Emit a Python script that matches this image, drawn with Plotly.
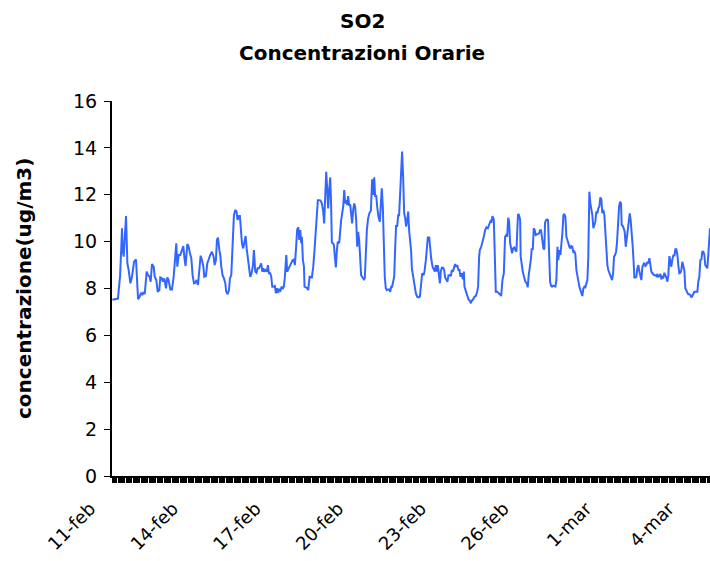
import datetime as dt
import plotly.graph_objects as go

# Hours elapsed since 11-feb 00:00 and SO2 hourly concentration (ug/m3)
hours = [
    0.0, 2.6, 4.9, 6.1, 6.7, 7.8, 8.4, 9.0, 9.9, 11.9, 13.1, 14.2, 15.7, 17.1, 18.9, 20.6, 21.5, 22.4,
    23.8, 25.0, 26.1, 27.3, 28.2, 29.0, 29.9, 31.1, 32.5, 33.4, 34.5, 36.0, 36.9, 38.3, 39.5, 40.9,
    41.8, 43.2, 44.1, 45.3, 46.7, 47.9, 49.0, 50.5, 51.9, 53.4, 54.9, 55.7, 56.6, 57.8, 59.2, 60.7,
    61.8, 63.0, 63.8, 65.3, 66.5, 67.6, 68.8, 69.9, 71.1, 72.3, 73.4, 74.6, 75.7, 76.9, 78.1, 79.2,
    80.1, 81.5, 82.7, 83.9, 85.3,
    86.8, 88.2, 89.1, 90.2, 91.1, 92.0, 93.2, 94.0, 94.9, 96.0, 97.2, 98.4, 99.2, 100.4, 101.6,
    102.4, 103.6, 104.8, 105.9, 107.1, 108.2, 109.1, 110.0, 111.1, 112.0, 112.9, 114.0, 114.9,
    116.1, 117.0, 118.1, 119.3, 120.1, 121.3, 122.5, 123.3, 124.5, 125.6, 126.5, 127.7, 128.8,
    129.7, 130.6, 131.5, 132.3, 133.5, 134.6, 135.5, 136.4, 137.5, 138.4, 139.3, 140.4, 141.6,
    142.5, 143.4, 144.5, 145.4, 146.5, 147.4, 148.6, 149.4, 150.3, 151.5, 152.3, 153.5, 154.7,
    155.8, 157.0, 158.1, 159.0, 159.9, 161.0, 162.0, 162.8, 163.7, 164.5, 165.1, 166.0, 166.9,
    167.4, 168.6, 169.8, 170.6, 171.8,
    173.8, 175.0, 176.1, 177.3, 178.2, 179.0, 180.2, 181.3, 182.5, 183.7, 184.5, 185.4, 186.3,
    187.2, 188.0, 188.9, 189.8, 190.6, 191.2, 192.1, 193.0, 193.8, 194.7, 195.6, 196.4, 197.6,
    198.5, 199.3, 200.2, 201.1, 202.0, 202.8, 203.7, 204.6, 205.4, 206.3, 207.2, 208.0, 208.9,
    209.8, 210.7, 211.5, 212.4, 213.3, 214.1, 215.0, 215.9, 216.7, 217.9, 219.1, 219.9, 220.8,
    221.7, 222.8, 224.0, 225.2, 226.3, 227.2, 228.1, 228.9, 229.8, 230.7, 231.8, 233.0, 233.9,
    234.7, 235.6, 236.5, 237.3, 238.2, 239.1, 240.0, 241.1, 242.0, 242.9, 243.7, 244.6, 245.5,
    246.3, 247.2, 248.1, 249.0, 249.8, 250.7, 251.6, 252.4, 253.3, 254.2, 255.1, 255.9, 256.8,
    257.7, 258.5, 259.4,
    260.3, 260.9, 262.1, 263.2, 264.4, 265.5, 266.7, 267.9, 269.0, 269.9, 271.1, 271.9, 273.1,
    274.3, 274.8, 276.0, 276.9, 277.7, 278.9, 280.1, 280.9, 281.8, 282.7, 283.5, 284.4, 285.3,
    286.1, 287.0, 288.2, 289.0, 289.9, 291.1, 291.9, 292.8, 294.0, 294.9, 295.7, 296.6, 297.8,
    298.6, 299.5, 300.4, 301.5, 302.4, 303.3, 304.4, 305.3, 306.2, 306.7, 307.9, 309.1, 310.2,
    311.4, 312.3, 313.1, 314.3, 315.5, 316.6, 317.8, 318.6, 319.5, 320.1, 321.3, 322.4, 323.6,
    324.7, 325.9, 327.1, 328.2, 329.4, 330.3, 331.1, 332.3, 332.9, 334.0, 335.2, 336.3, 337.5,
    338.7, 339.8, 341.0, 342.1, 343.0, 343.9, 344.8, 345.6, 346.5,
    347.3, 348.2, 349.1, 350.2, 351.1, 352.0, 352.8, 353.4, 354.3, 355.2, 355.7, 356.6, 357.5,
    358.6, 359.8, 361.0, 361.8, 362.7, 363.6, 364.7, 365.3, 366.2, 367.1, 367.9, 368.8, 369.7,
    370.5, 371.7, 372.6, 373.4, 374.3, 375.5, 376.3, 376.9, 377.8, 378.7, 379.5, 380.4, 381.3,
    382.1, 383.0, 383.9, 385.0, 385.9, 386.8, 387.7, 388.5, 389.4, 390.3, 391.1, 392.0, 392.9,
    393.7, 394.6, 395.5, 396.4, 397.2, 398.1, 399.0, 399.8, 400.7, 401.6, 402.5, 403.3, 404.2,
    405.1, 405.9, 406.8, 407.7, 408.5, 409.4, 410.3, 411.2, 412.0, 412.9, 413.8, 414.6, 415.5,
    416.4, 417.3, 418.1, 419.0, 419.9, 420.7, 421.6, 422.5, 423.3, 424.2, 425.1, 426.0, 426.8,
    427.7, 428.6, 429.4, 430.3, 431.2, 432.0, 432.9, 433.5,
    434.4, 435.3, 436.2, 437.0, 437.9, 438.8, 439.6, 440.5, 441.4, 442.3, 443.1, 443.7, 444.6,
    445.4, 446.3, 447.2, 448.1, 448.9, 449.8, 450.7, 451.5, 452.4, 453.3, 454.2, 454.7, 455.6,
    456.5, 457.3, 458.2, 459.1, 459.9, 460.8, 461.7, 462.6, 463.4, 464.3, 465.2, 466.1, 466.9,
    467.8, 468.7, 469.5, 470.4, 471.3, 472.1, 473.0, 473.9, 474.8, 475.6, 476.5, 477.4, 478.2,
    479.1, 480.0, 480.9, 481.7, 482.6, 483.5, 484.3, 485.2, 486.1, 486.9, 487.8, 488.7, 489.6,
    490.4, 491.3, 492.2, 493.0, 493.9, 494.8, 495.6, 496.5, 497.4, 498.3, 499.1, 500.0, 500.9,
    501.7, 502.6, 503.5, 504.4, 505.2, 506.1, 507.0, 507.8, 508.7, 509.6, 510.4, 511.3, 512.2,
    513.1, 513.9, 514.8, 515.7, 516.5, 517.4, 518.3, 519.2, 520.0, 520.6,
]

so2 = [
    7.52, 7.54, 7.57, 8.22, 8.50, 9.78, 10.57, 9.64, 9.36, 11.09, 9.07, 8.79, 8.22, 8.50, 9.14, 9.24, 8.36, 7.54,
    7.65, 7.82, 7.72, 7.86, 7.76, 8.36, 8.72, 8.57, 8.50, 8.29, 9.04, 8.93, 8.50, 8.36, 7.86, 7.93,
    8.47, 8.43, 8.29, 8.43, 8.01, 8.47, 8.36, 7.96, 7.96, 8.50, 9.36, 9.93, 8.93, 9.43, 9.43, 9.64,
    9.81, 9.21, 8.96, 9.90, 9.78, 9.50, 9.29, 8.57, 8.22, 8.25, 8.36, 8.15, 8.86, 9.40, 9.21, 8.96,
    8.50, 8.53, 9.07, 9.29, 9.43,
    9.57, 9.36, 9.00, 9.21, 10.07, 10.17, 9.64, 9.43, 8.93, 8.57, 8.43, 8.22, 7.86, 7.76, 7.93,
    8.43, 8.57, 10.07, 11.13, 11.35, 11.28, 10.92, 11.09, 11.09, 10.35, 9.93, 9.71, 9.93,
    10.24, 9.71, 9.29, 8.93, 8.50, 8.65, 9.00, 9.64, 8.72, 8.67, 8.86, 8.86, 9.00,
    9.07, 8.72, 8.86, 8.72, 8.79, 8.72, 9.00, 8.65, 8.65, 8.50, 8.08, 8.08, 8.11,
    7.79, 8.01, 7.82, 7.96, 7.91, 8.08, 8.01, 8.08, 8.50, 9.43, 8.72, 8.86, 8.96,
    9.10, 9.21, 9.24, 9.00, 9.64, 10.52, 10.61, 10.07, 10.49, 9.93, 10.21, 9.21, 8.93,
    8.08, 8.05, 8.01, 7.93, 8.50,
    8.47, 8.93, 9.64, 10.49, 11.28, 11.77, 11.77, 11.75, 11.63, 11.28, 10.78, 11.92, 12.98,
    12.20, 11.42, 12.20, 12.74, 11.49, 9.96, 9.93, 9.85, 9.36, 8.90, 9.64, 10.00, 9.93,
    10.57, 10.92, 11.21, 11.49, 12.20, 11.63, 11.77, 11.56, 11.94, 11.56, 11.56, 11.13, 10.78,
    11.35, 11.63, 11.49, 10.92, 9.78, 10.42, 10.07, 8.86, 8.57, 8.47, 8.39, 8.43, 9.78,
    10.49, 10.99, 11.23, 11.32, 12.66, 11.99, 12.74, 11.92, 11.99, 11.49, 11.06, 10.85, 11.99,
    12.27, 11.49, 9.64, 8.50, 8.01, 7.93, 7.96, 7.96, 7.86, 8.08, 8.08, 8.36, 8.50,
    9.64, 10.71, 10.64, 11.13, 11.13, 12.20, 13.20, 13.84, 12.77, 11.21, 10.99, 10.64, 10.92,
    11.28, 10.49, 10.07,
    9.57, 8.86, 8.50, 8.08, 7.79, 7.65, 7.62, 7.65, 8.22, 8.65, 8.57, 8.72, 9.21,
    9.78, 10.18, 10.18, 9.57, 9.29, 8.93, 8.79, 8.72, 9.00, 8.72, 9.00, 8.50, 8.22,
    8.72, 8.89, 8.89, 8.79, 8.47, 8.33, 8.29, 8.57, 8.57, 8.53, 8.79, 8.72, 8.93,
    9.04, 8.93, 9.00, 8.79, 8.79, 8.50, 8.65, 8.39, 8.72, 8.08, 7.86, 7.72, 7.54,
    7.48, 7.37, 7.48, 7.54, 7.65, 7.68, 7.86, 8.08, 9.36, 9.64, 9.78, 9.95, 10.21,
    10.49, 10.61, 10.57, 10.71, 10.88, 10.85, 11.09, 10.95, 9.43, 7.86, 7.86, 7.82, 7.76,
    7.68, 8.36, 8.65, 10.21, 10.28, 10.21, 11.02, 10.85, 9.93,
    9.64, 9.50, 9.71, 9.75, 9.64, 9.57, 10.57, 11.18, 11.13, 10.92, 9.36, 9.00, 8.72,
    8.50, 8.29, 8.22, 8.05, 8.57, 8.86, 9.29, 9.71, 9.64, 10.57, 10.49, 10.28, 10.32,
    10.32, 10.35, 10.49, 10.49, 10.07, 9.71, 9.67, 10.81, 10.92, 10.95, 10.92, 9.64, 8.29,
    8.12, 8.08, 8.12, 8.08, 8.08, 8.36, 9.78, 9.21, 9.64, 9.43, 9.78, 10.35, 11.13,
    11.18, 11.06, 10.21, 10.07, 9.85, 9.78, 9.71, 9.81, 9.78, 9.53, 9.57, 9.47, 8.79,
    8.50, 8.22, 8.08, 7.93, 7.76, 7.68, 8.01, 8.08, 8.05, 8.22, 8.36, 9.36, 12.13,
    11.63, 11.35, 11.13, 10.57, 10.71, 10.85, 11.28, 11.21, 11.42, 11.49, 11.89, 11.80, 11.21,
    11.35, 11.13, 10.28, 9.29, 9.00, 8.79, 8.67, 8.57,
    8.39, 8.36, 8.65, 9.36, 9.43, 9.57, 9.97, 10.78, 11.49, 11.70, 11.63, 10.71, 10.67,
    10.57, 10.42, 9.78, 10.14, 10.57, 10.99, 11.21, 10.92, 10.42, 9.78, 9.00, 8.47, 8.47,
    8.50, 8.86, 9.00, 8.72, 8.57, 8.36, 8.93, 9.07, 9.10, 8.96, 9.00, 9.14, 9.07,
    9.29, 8.93, 8.72, 8.65, 8.60, 8.57, 8.57, 8.53, 8.62, 8.50, 8.53, 8.62, 8.39,
    8.50, 8.47, 8.67, 8.57, 8.47, 8.29, 8.57, 9.38, 9.00, 8.93, 9.24, 9.43, 9.38,
    9.67, 9.67, 9.43, 9.00, 8.65, 8.67, 8.79, 9.14, 8.96, 8.76, 8.01, 7.86, 7.82,
    7.76, 7.76, 7.72, 7.62, 7.68, 7.82, 7.86, 7.86, 7.86, 7.86, 8.29, 8.50, 9.21,
    9.24, 9.57, 9.57, 9.43, 9.00, 8.93, 8.86, 9.50, 10.49, 10.57,
]

tick_dates = ["2011-02-11", "2011-02-14", "2011-02-17", "2011-02-20",
              "2011-02-23", "2011-02-26", "2011-03-01", "2011-03-04"]
tick_labels = ["11-feb", "14-feb", "17-feb", "20-feb", "23-feb", "26-feb", "1-mar", "4-mar"]

start = dt.datetime(2011, 2, 11)
times = [start + dt.timedelta(hours=h) for h in hours]

FONT = "DejaVu Sans"

fig = go.Figure()
fig.add_trace(go.Scatter(
    x=times, y=so2, mode="lines",
    line=dict(color="#3366FF", width=2),
    showlegend=False, hoverinfo="skip",
))

x_end = start + dt.timedelta(hours=520.6)

fig.update_layout(
    width=710, height=561,
    margin=dict(l=112, r=0, t=101, b=85),
    paper_bgcolor="white", plot_bgcolor="white",
    font=dict(family=FONT, color="black"),
    xaxis=dict(
        type="date", automargin=False,
        range=[start - dt.timedelta(hours=0.3), x_end],
        tickvals=tick_dates, ticktext=tick_labels,
        tickangle=-45, tickfont=dict(size=18, family=FONT, color="black"),
        ticks="outside", ticklen=5, tickwidth=1, tickcolor="black",
        ticklabelshift=-22, ticklabelstandoff=8,
        minor=dict(dtick=1 * 3600 * 1000, ticks="outside", ticklen=5,
                   tickwidth=1, tickcolor="black", showgrid=False),
        showline=True, linecolor="black", linewidth=2,
        showgrid=False, zeroline=False,
    ),
    yaxis=dict(
        automargin=False,
        range=[0, 16], dtick=2, tick0=0,
        tickfont=dict(size=19, family=FONT, color="black"),
        ticks="outside", ticklen=6, tickwidth=1, tickcolor="black",
        ticklabelstandoff=3,
        showline=True, linecolor="black", linewidth=2,
        showgrid=False, zeroline=False,
    ),
    annotations=[
        dict(text="<b>SO2</b>", xref="paper", yref="paper",
             x=(362 - 112) / 598, y=(476 - 21) / 375, xanchor="center", yanchor="middle",
             showarrow=False, font=dict(size=20, family=FONT, color="black")),
        dict(text="<b>Concentrazioni Orarie</b>", xref="paper", yref="paper",
             x=(362 - 112) / 598, y=(476 - 53) / 375, xanchor="center", yanchor="middle",
             showarrow=False, font=dict(size=20, family=FONT, color="black")),
        dict(text="<b>concentrazione(ug/m3)</b>", xref="paper", yref="paper",
             x=(24 - 112) / 598, y=(476 - 288) / 375, xanchor="center", yanchor="middle",
             textangle=-90, showarrow=False,
             font=dict(size=20, family=FONT, color="black")),
    ],
)

fig.write_html(
    "out.html",
    config={"displayModeBar": False},
    post_script="document.body.style.margin='0';document.body.style.overflow='hidden';",
)
